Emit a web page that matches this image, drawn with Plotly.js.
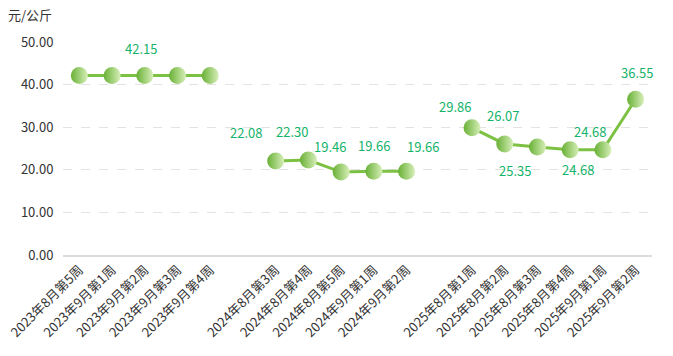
<!DOCTYPE html>
<html>
<head>
<meta charset="utf-8">
<script src="https://cdn.plot.ly/plotly-3.0.1.min.js"></script>
<style>html,body{margin:0;padding:0;background:#fff;}#chart{width:673px;height:356px;}</style>
</head>
<body>
<div id="chart"></div>
<script>
// Categories (blank entries separate the three years)
const categories = [
  '2023年8月第5周','2023年9月第1周','2023年9月第2周','2023年9月第3周','2023年9月第4周',
  ' ',
  '2024年8月第3周','2024年8月第4周','2024年8月第5周','2024年9月第1周','2024年9月第2周',
  '  ',
  '2025年8月第1周','2025年8月第2周','2025年8月第3周','2025年8月第4周','2025年9月第1周','2025年9月第2周'
];
// Price (元/公斤)
const prices = [
  42.15, 42.15, 42.15, 42.15, 42.15,
  null,
  22.08, 22.30, 19.46, 19.66, 19.66,
  null,
  29.86, 26.07, 25.35, 24.68, 24.68, 36.55
];
// Which points show a value label
const showLabel = [
  false, false, true, false, false,
  false,
  true, true, true, true, true,
  false,
  true, true, true, true, true, true
];
const yTickVals = [0, 10, 20, 30, 40, 50];
const yTickText = ['0.00','10.00','20.00','30.00','40.00','50.00'];

// label offsets (pixels) - styling only
const labelDx = [0,0,-4,0,0, 0, -30,-16,-11,0,16, 0, -17,-2,-22,8,-13,1];
const labelDy = [27,27,27,27,27, 0, 28,29,26,26,25, 0, 21,28,-23,-20,18,27];

const annotations = [];
categories.forEach((c, i) => {
  if (!showLabel[i] || prices[i] === null) return;
  annotations.push({
    x: c, y: prices[i], xref: 'x', yref: 'y',
    text: prices[i].toFixed(2), showarrow: false,
    xshift: labelDx[i], yshift: labelDy[i],
    font: {family: '"Noto Sans CJK SC", "Noto Sans", sans-serif', size: 13, color: '#14b36a'}
  });
});
annotations.push({
  xref: 'paper', yref: 'paper', x: 0, y: 1, xanchor: 'left', yanchor: 'middle',
  xshift: -57, yshift: 28, text: '元/公斤', showarrow: false,
  font: {family: '"Noto Sans CJK SC", sans-serif', size: 13, color: '#333'}
});

const trace = {
  type: 'scatter', mode: 'lines+markers',
  x: categories, y: prices, connectgaps: false,
  line: {color: '#7cc142', width: 3},
  marker: {size: 17, color: '#68b035', gradient: {type: 'horizontal', color: '#d8efba'}},
  hoverinfo: 'skip', cliponaxis: false
};

const layout = {
  width: 673, height: 356,
  margin: {l: 63, r: 21, t: 42, b: 101},
  paper_bgcolor: '#fff', plot_bgcolor: '#fff',
  showlegend: false,
  font: {family: '"Noto Sans CJK SC", "Noto Sans", sans-serif', color: '#333'},
  xaxis: {
    type: 'category', tickangle: -45, showgrid: false, zeroline: false,
    automargin: false, range: [-0.5, categories.length - 0.5],
    showline: true, linecolor: '#dcdcdc', linewidth: 2,
    tickfont: {size: 13, color: '#333'}, ticks: '', fixedrange: true
  },
  yaxis: {
    range: [0, 50], tickvals: yTickVals, ticktext: yTickText, automargin: false,
    showgrid: true, gridcolor: '#e3e3e3', griddash: 'dash', gridwidth: 1,
    zeroline: false, showline: false,
    ticks: 'outside', ticklen: 6, tickcolor: 'rgba(0,0,0,0)',
    tickfont: {size: 13, color: '#333'}, fixedrange: true
  },
  annotations: annotations
};

Plotly.newPlot('chart', [trace], layout, {displayModeBar: false, staticPlot: true});
</script>
</body>
</html>
